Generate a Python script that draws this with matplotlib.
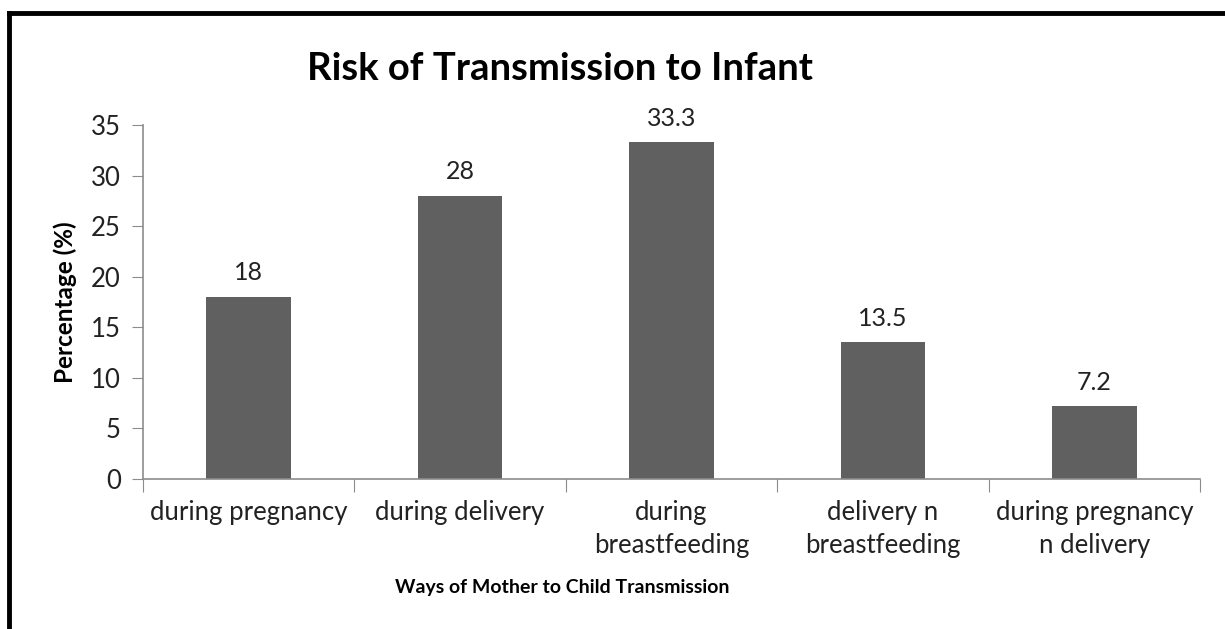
import numpy as np
import matplotlib
matplotlib.use("Agg")
import matplotlib.pyplot as plt
from matplotlib.lines import Line2D

plt.rcParams['font.family'] = ['Lato', 'DejaVu Sans']

categories = ["during pregnancy", "during delivery", "during\nbreastfeeding",
              "delivery n\nbreastfeeding", "during pregnancy\nn delivery"]
values = [18, 28, 33.3, 13.5, 7.2]
value_labels = ["18", "28", "33.3", "13.5", "7.2"]
yticks = [0, 5, 10, 15, 20, 25, 30, 35]

W, H = 1225, 629
fig = plt.figure(figsize=(12.25, 6.29), dpi=100)
ax = fig.add_axes([143 / W, 1 - 479 / H, (1200 - 143) / W, (479 - 125) / H])

x = np.arange(len(categories))
ax.bar(x, values, width=0.4, color="#606060")
for xi, v, lab in zip(x, values, value_labels):
    ax.annotate(lab, (xi, v), xytext=(0, 9), textcoords="offset points",
                ha="center", va="bottom", fontsize=18, color="#222222")

ax.set_xlim(-0.5, len(categories) - 0.5)
ax.set_ylim(0, 35)
ax.set_yticks(yticks)
ax.tick_params(axis="y", length=8, color="#8c8c8c", labelsize=18.5, pad=8, labelcolor="#222222")

# category labels centred, tick marks at the boundaries
ax.set_xticks(np.arange(len(categories) + 1) - 0.5)
ax.set_xticklabels([])
ax.tick_params(axis="x", length=9, color="#8c8c8c")
ax.set_xticks(x, minor=True)
ax.set_xticklabels(categories, minor=True, fontsize=18.5, color="#222222", linespacing=1.4)
ax.tick_params(axis="x", which="minor", length=0, pad=15)

for s in ["top", "right"]:
    ax.spines[s].set_visible(False)
for s in ["left", "bottom"]:
    ax.spines[s].set_color("#8c8c8c")
    ax.spines[s].set_linewidth(1.2)

ax.set_ylabel("Percentage (%)", fontsize=17.5, fontweight="bold", labelpad=10)
fig.text(562 / W, 1 - 588 / H, "Ways of Mother to Child Transmission",
         ha="center", va="center", fontsize=14, fontweight="bold")
fig.text(560 / W, 1 - 69 / H, "Risk of Transmission to Infant",
         ha="center", va="center", fontsize=27.5, fontweight="bold")

# black frame (top and left edges visible)
fig.add_artist(Line2D([9 / W, 9 / W], [0, 1 - 12.5 / H], color="black", lw=3.5,
                      transform=fig.transFigure, solid_capstyle="projecting"))
fig.add_artist(Line2D([9 / W, 1], [1 - 12.5 / H, 1 - 12.5 / H], color="black", lw=3.5,
                      transform=fig.transFigure, solid_capstyle="projecting"))

fig.savefig("out.png", dpi=100)
